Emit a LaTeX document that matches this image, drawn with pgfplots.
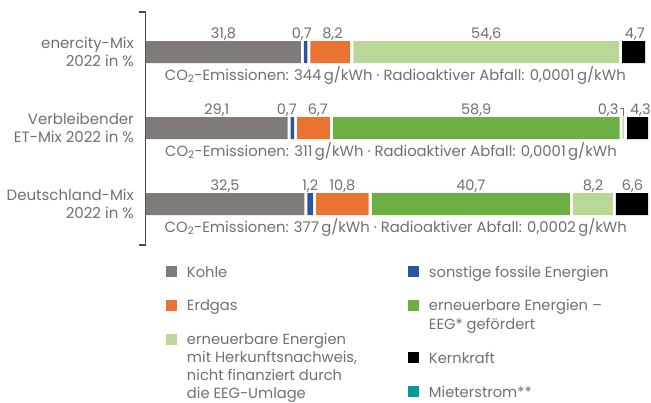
\documentclass[border=0pt]{standalone}
\usepackage{pgfplots}
\pgfplotsset{compat=1.18}
\usepackage{pgfplotstable}
\usepackage{fontspec}
\setmainfont{Poppins}
\definecolor{kohle}{HTML}{807B78}
\definecolor{sonst}{HTML}{2B559E}
\definecolor{erdgas}{HTML}{E97431}
\definecolor{eeg}{HTML}{6CB043}
\definecolor{hkn}{HTML}{B9D797}
\definecolor{kern}{HTML}{000000}
\definecolor{mieter}{HTML}{009B9B}
\definecolor{txt}{HTML}{707070}
\definecolor{axgray}{HTML}{4A4A4A}
\newcommand\yf{\fontsize{15}{18}\selectfont}
\newcommand\vf{\fontsize{14.5}{16}\selectfont}
\newcommand\cf{\fontsize{14.8}{16}\selectfont}
\newcommand\lf{\fontsize{14.7}{18}\selectfont}
\newcommand\tl[1]{\begin{tabular}[t]{@{}l@{}}#1\end{tabular}}
\tikzset{
  lab/.style={anchor=base, yshift=14pt, font=\vf, text=txt, inner sep=0pt},
  co/.style={anchor=base, yshift=-28pt, font=\cf, text=txt, inner sep=0pt},
}
\pgfplotsset{
  legaxis/.style={
    at={(0pt,0pt)}, anchor=south west,
    scale only axis, width=505pt, height=233pt,
    hide axis, xmin=0, xmax=1, ymin=0, ymax=1,
    legend image code/.code={\path[##1] (0pt,0pt) rectangle (11pt,11pt);},
    legend style={anchor=north west, draw=none, fill=none,
      inner sep=0pt, outer sep=0pt, column sep=10pt,
      font=\lf, text=txt, cells={anchor=base west}, nodes={inner sep=0pt, outer sep=0pt}},
  }
}
% #1 colour, #2 rel x, #3 rel y of the entry's top, #4 text
\newcommand\legitem[4]{%
  \begin{axis}[legaxis, legend style={at={(#2,#3)}}]
  \addlegendimage{fill=#1, draw=none}
  \addlegendentry{\tl{#4}}
  \end{axis}}

% order: Kohle, sonstige fossile, Erdgas, EEG, HKN, Kernkraft
\pgfplotstableread{
y kohle sonst erdgas eeg hkn kern
2 31.8 0.7 8.2 0 54.6 4.7
1 29.1 0.7 6.7 58.9 0.3 4.3
0 32.5 1.2 10.8 40.7 8.2 6.6
}\mix
% white gaps between the segments (layout only)
\pgfplotstableread{
y gap gapeeg
2 0.62 0
1 0.62 0.62
0 0.62 0.62
}\gaps

\begin{document}
\begin{tikzpicture}
\useasboundingbox (-146pt,-158pt) rectangle (505pt,245pt);
% left axis bracket
\draw[axgray, line width=1.2pt] (-7pt,233pt) -- (-0.8pt,233pt) -- (-0.8pt,0pt) -- (-7pt,0pt);
\begin{axis}[
  at={(0pt,0pt)}, anchor=south west,
  scale only axis, width=505pt, height=233pt,
  xbar stacked, bar width=22pt,
  xmin=0, xmax=103.7, ymin=-0.54, ymax=2.53,
  axis x line=none, axis y line*=left,
  y axis line style={draw=none},
  ytick={0,1,2},
  yticklabels={{Deutschland-Mix\\2022 in \%},{Verbleibender\\ET-Mix 2022 in \%},{enercity-Mix\\2022 in \%}},
  major tick length=0pt,
  yticklabel style={align=right, font=\yf, text=txt, inner sep=0pt, xshift=-12pt},
  clip=false,
]
\addplot[fill=kohle, draw=none] table[x=kohle, y=y] {\mix};
\addplot[fill=none, draw=none] table[x=gap, y=y] {\gaps};
\addplot[fill=sonst, draw=none] table[x=sonst, y=y] {\mix};
\addplot[fill=none, draw=none] table[x=gap, y=y] {\gaps};
\addplot[fill=erdgas, draw=none] table[x=erdgas, y=y] {\mix};
\addplot[fill=none, draw=none] table[x=gap, y=y] {\gaps};
\addplot[fill=eeg, draw=none] table[x=eeg, y=y] {\mix};
\addplot[fill=none, draw=none] table[x=gapeeg, y=y] {\gaps};
\addplot[fill=hkn, draw=none] table[x=hkn, y=y] {\mix};
\addplot[fill=none, draw=none] table[x=gap, y=y] {\gaps};
\addplot[fill=kern, draw=none] table[x=kern, y=y] {\mix};

% value labels
\node[lab] at (axis cs:15.9,2) {31,8};
\node[lab] at (axis cs:32.0,2) {0,7};
\node[lab] at (axis cs:38.3,2) {8,2};
\node[lab] at (axis cs:69.86,2) {54,6};
\node[lab] at (axis cs:100.4,2) {4,7};
\node[lab] at (axis cs:14.55,1) {29,1};
\node[lab] at (axis cs:28.9,1) {0,7};
\node[lab] at (axis cs:35.3,1) {6,7};
\node[lab] at (axis cs:67.81,1) {58,9};
\node[lab] at (axis cs:94.9,1) {0,3};
\node[lab] at (axis cs:101.5,1) {4,3};
\node[lab] at (axis cs:16.25,0) {32,5};
\node[lab] at (axis cs:33.72,0) {1,2};
\node[lab] at (axis cs:40.34,0) {10,8};
\node[lab] at (axis cs:66.71,0) {40,7};
\node[lab] at (axis cs:91.78,0) {8,2};
\node[lab] at (axis cs:99.9,0) {6,6};
\draw[txt, line width=0.6pt] (axis cs:97.3,1.255) -- (axis cs:98.03,1.255) -- (axis cs:98.03,1.16);

% emissions
\node[co] at (axis cs:51.2,2) {CO\textsubscript{2}-Emissionen: 344\,g/kWh · Radioaktiver Abfall: 0,0001\,g/kWh};
\node[co] at (axis cs:50.3,1) {CO\textsubscript{2}-Emissionen: 311\,g/kWh · Radioaktiver Abfall: 0,0001\,g/kWh};
\node[co] at (axis cs:51.3,0) {CO\textsubscript{2}-Emissionen: 377\,g/kWh · Radioaktiver Abfall: 0,0002\,g/kWh};
\end{axis}

% legend, left column
\legitem{kohle}{0.0396}{-0.0833}{Kohle}
\legitem{erdgas}{0.0396}{-0.2292}{Erdgas}
\legitem{hkn}{0.0396}{-0.3751}{erneuerbare Energien\\mit Herkunftsnachweis,\\nicht finanziert durch\\die EEG-Umlage}
% legend, right column
\legitem{sonst}{0.5188}{-0.0833}{sonstige fossile Energien}
\legitem{eeg}{0.5188}{-0.2292}{erneuerbare Energien –\\EEG* gefördert}
\legitem{kern}{0.5188}{-0.4524}{Kernkraft}
\legitem{mieter}{0.5188}{-0.5983}{Mieterstrom**}
\end{tikzpicture}
\end{document}
